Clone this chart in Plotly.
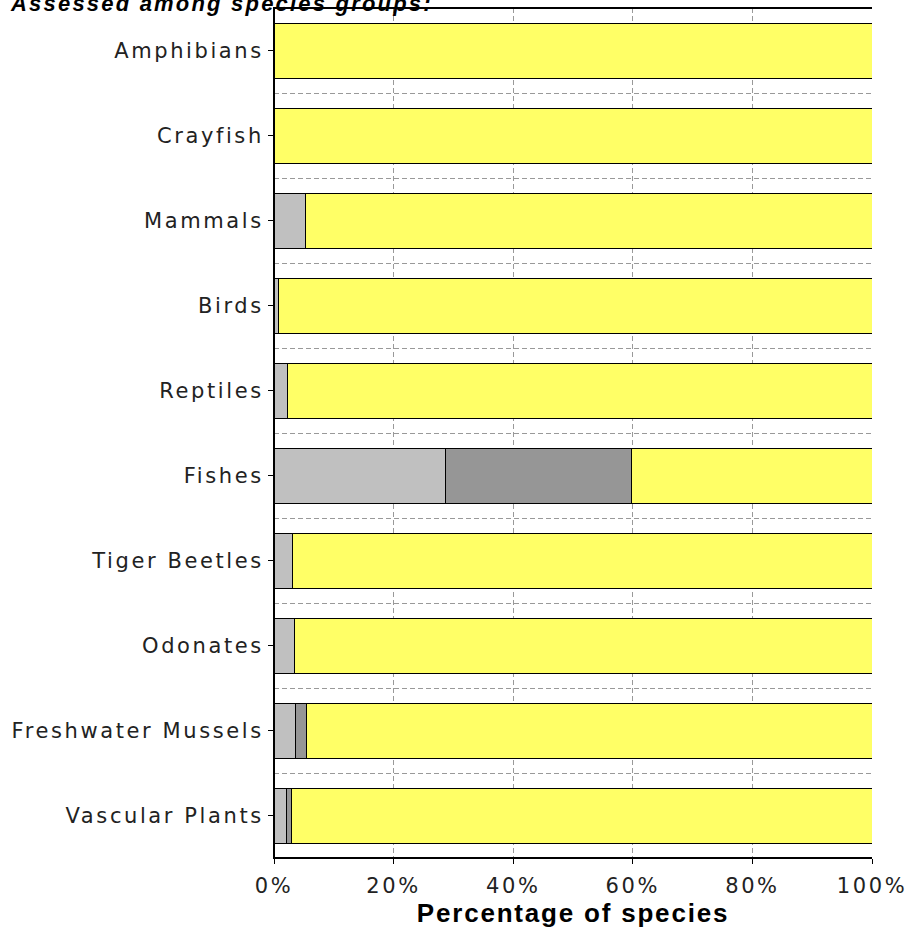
import plotly.graph_objects as go

# species groups, top to bottom
groups = ["Amphibians", "Crayfish", "Mammals", "Birds", "Reptiles", "Fishes",
          "Tiger Beetles", "Odonates", "Freshwater Mussels", "Vascular Plants"]

# percentage of species per group (stacked left to right)
pct_light = [0, 0, 5.3, 0.8, 2.2, 28.6, 3.1, 3.5, 3.6, 2.1]
pct_dark = [0, 0, 0, 0, 0, 31.2, 0, 0, 1.9, 0.9]
pct_yellow = [100, 100, 94.7, 99.2, 97.8, 40.2, 96.9, 96.5, 94.5, 97.0]

x_ticks = [0, 20, 40, 60, 80, 100]
x_labels = ["0%", "20%", "40%", "60%", "80%", "100%"]

BAR_W = 0.647
GAP = 1 - BAR_W
SPACING = "letter-spacing:2.6px"
DASH = "5px,3px"

pos = list(range(len(groups)))
line = dict(color="black", width=1)

fig = go.Figure()
for vals, col, name in [(pct_light, "#C0C0C0", "light"),
                        (pct_dark, "#969696", "dark"),
                        (pct_yellow, "#FFFF66", "yellow")]:
    fig.add_trace(go.Bar(y=pos, x=vals, orientation="h", width=BAR_W, name=name,
                         marker=dict(color=col, line=line), hoverinfo="skip"))

# empty framed strips between the bars
strip_y = [p + 0.5 for p in pos[:-1]]
fig.add_trace(go.Bar(y=strip_y, x=[100] * len(strip_y), orientation="h", width=GAP,
                     marker=dict(color="rgba(0,0,0,0)", line=line), hoverinfo="skip"))
edge_y = [-0.5 + GAP / 4, len(groups) - 0.5 - GAP / 4]
fig.add_trace(go.Bar(y=edge_y, x=[100, 100], orientation="h", width=GAP / 2,
                     marker=dict(color="rgba(0,0,0,0)", line=line), hoverinfo="skip"))

tick_font = dict(family="DejaVu Sans", size=21, color="#222")

fig.update_layout(
    width=910, height=943,
    barmode="stack", showlegend=False,
    plot_bgcolor="white", paper_bgcolor="white",
    margin=dict(l=274, r=38, t=8, b=85),
    xaxis=dict(range=[0, 100], tickvals=x_ticks, automargin=False,
               ticktext=[f'<span style="{SPACING}">{t}</span>' for t in x_labels],
               showgrid=True, gridcolor="#999", griddash=DASH, gridwidth=1,
               ticks="outside", ticklen=5, tickcolor="black", ticklabelstandoff=4,
               showline=True, linecolor="black", linewidth=1, mirror=True,
               zeroline=False, tickfont=tick_font,
               title=dict(text='<b><span style="letter-spacing:1.8px">Percentage of species</span></b>',
                          font=dict(family="Liberation Sans", size=26, color="black"),
                          standoff=6)),
    yaxis=dict(range=[len(groups) - 0.5, -0.5], tickvals=pos, automargin=False,
               ticktext=[f'<span style="{SPACING}">{g}</span>' for g in groups],
               showgrid=False, zeroline=False,
               ticks="outside", ticklen=5, tickcolor="black",
               showline=True, linecolor="black", linewidth=1,
               tickfont=tick_font,
               minor=dict(tickvals=strip_y, showgrid=True, gridcolor="#999",
                          griddash=DASH, ticklen=0)),
)

# chart heading, cut by the top edge like the original
fig.add_annotation(text='<b><i><span style="letter-spacing:2.2px">Assessed among species groups:</span></i></b>',
                   xref="paper", yref="paper", x=(8 - 274) / 598, y=1 + 5 / 850,
                   xanchor="left", yanchor="middle", showarrow=False,
                   font=dict(family="Liberation Sans", size=22, color="black"))

# heavier base line
fig.add_shape(type="line", xref="paper", yref="paper", x0=0, x1=1, y0=0, y1=0,
              line=dict(color="black", width=2))

fig.write_html("out.html", config={"displayModeBar": False},
               post_script="document.body.style.margin='0';")
